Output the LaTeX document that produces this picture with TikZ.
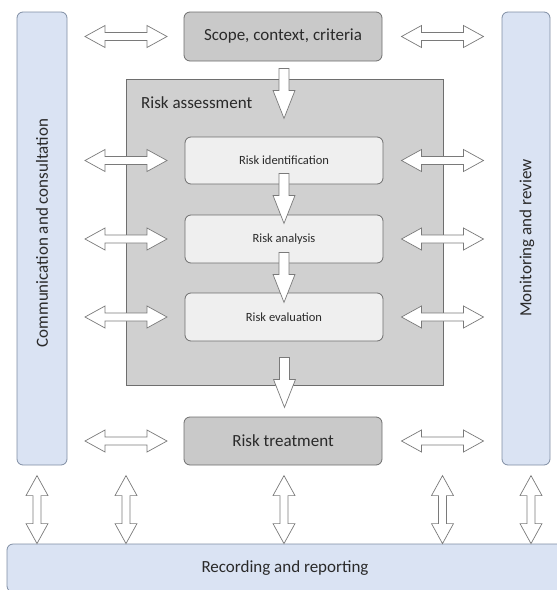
\documentclass[tikz,border=0pt]{standalone}
\usepackage{fontspec}
\setmainfont{Carlito}
\usetikzlibrary{calc}
\definecolor{colfill}{HTML}{DAE3F3}
\definecolor{colline}{HTML}{7F8DA3}
\definecolor{grayfill}{HTML}{C9C9C9}
\definecolor{assessfill}{HTML}{D0D0D0}
\definecolor{innerfill}{HTML}{EFEFEF}
\definecolor{boxline}{HTML}{6E6E6E}
\definecolor{arrowline}{HTML}{7A7A7A}
\definecolor{textc}{HTML}{2A2A2A}
\newcommand\bigtxt{\fontsize{17}{20}\selectfont}
\newcommand\smalltxt{\fontsize{12.5}{15}\selectfont}
\tikzset{
  colbox/.style={draw=colline, fill=colfill, line width=0.8pt, rounded corners=6pt, inner sep=0pt},
  graybox/.style={draw=boxline, fill=grayfill, line width=0.8pt, rounded corners=6pt, inner sep=0pt, text=textc, font=\bigtxt},
  assessbox/.style={draw=boxline, fill=assessfill, line width=0.8pt, inner sep=0pt},
  innerbox/.style={draw=boxline, fill=innerfill, line width=0.8pt, rounded corners=6pt, inner sep=0pt, text=textc, font=\smalltxt},
  lbl/.style={text=textc, font=\bigtxt, inner sep=0pt},
  arrowbody/.style={draw=arrowline, fill=white, line width=0.7pt, line join=miter},
  pics/hdbl/.style={code={
    \path[arrowbody] (-#1/2,0) -- (-#1/2+20,-11) -- (-#1/2+20,-4) -- (#1/2-20,-4) -- (#1/2-20,-11) -- (#1/2,0) -- (#1/2-20,11) -- (#1/2-20,4) -- (-#1/2+20,4) -- (-#1/2+20,11) -- cycle;
  }},
  pics/darr/.style={code={
    \path[arrowbody] (-5,0) -- (5,0) -- (5,22) -- (11,22) -- (0,50) -- (-11,22) -- (-5,22) -- cycle;
  }},
}
\begin{document}
\begin{tikzpicture}[x=1pt,y=-1pt]
\useasboundingbox (0,0) rectangle (557,590);
% side columns
\node[colbox, minimum width=50pt, minimum height=453pt] (comm) at (42,238.5) {};
\node[lbl, rotate=90] (commlbl) at (42,233) {Communication and consultation};
\node[colbox, minimum width=48pt, minimum height=453pt] (mon) at (526,238.5) {};
\node[lbl, rotate=90] (monlbl) at (527,238) {Monitoring and review};
% main boxes
\node[graybox, minimum width=198pt, minimum height=49pt] (scope) at (283,36.5) {Scope, context, criteria};
\node[assessbox, minimum width=317pt, minimum height=306pt] (assess) at (284.5,232) {};
\node[lbl, anchor=west] (assesslbl) at (141,103) {Risk assessment};
\node[innerbox, minimum width=198pt, minimum height=47pt] (ident) at (284,160.5) {Risk identification};
\node[innerbox, minimum width=198pt, minimum height=48pt] (anal) at (284,239) {Risk analysis};
\node[innerbox, minimum width=198pt, minimum height=48pt] (eval) at (284,317) {Risk evaluation};
\node[graybox, minimum width=198pt, minimum height=48pt] (treat) at (283,441) {Risk treatment};
\node[colbox, minimum width=556pt, minimum height=48pt, text=textc, font=\bigtxt] (rec) at (285,568) {Recording and reporting};
% helper coordinates
\coordinate (cl) at ($(comm.east)!0.5!(ident.west)$);
\coordinate (cr) at ($(ident.east)!0.5!(mon.west)$);
% down arrows
\pic at ($(scope.south)+(1,7)$) {darr};
\pic at ($(ident.south)+(0,-11)$) {darr};
\pic at ($(anal.south)+(0,-11)$) {darr};
\pic at ($(assess.south)+(0,-28)$) {darr};
% horizontal double arrows
\foreach \n in {scope,ident,anal,eval,treat}{
  \pic at (cl |- \n) {hdbl=82};
  \pic at (cr |- \n) {hdbl=82};
}
% vertical double arrows to the record bar
\coordinate (vrow) at ($(rec.north)+(0,-34)$);
\pic[rotate=90] at ($(comm.south |- vrow)+(-5,0)$) {hdbl=68};
\pic[rotate=90] at (cl |- vrow) {hdbl=68};
\pic[rotate=90] at ($(treat.south |- vrow)+(1,0)$) {hdbl=68};
\pic[rotate=90] at (cr |- vrow) {hdbl=68};
\pic[rotate=90] at ($(mon.south |- vrow)+(5,0)$) {hdbl=68};
\end{tikzpicture}
\end{document}
